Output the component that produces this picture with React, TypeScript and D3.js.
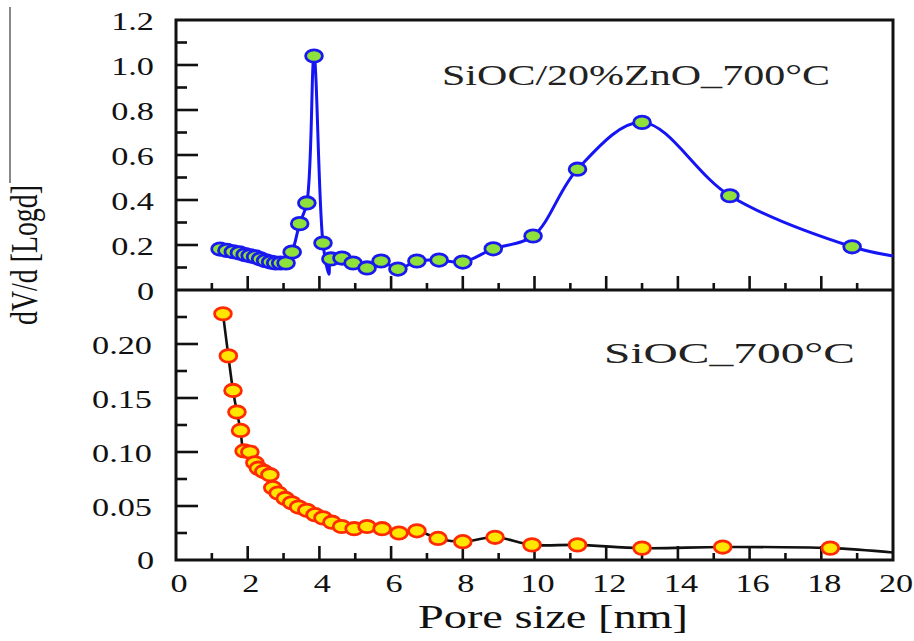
import React from "react";
import * as d3 from "d3";

// ---- data ----
const topX = [1.23, 1.42, 1.6, 1.77, 1.93, 2.07, 2.22, 2.36, 2.5, 2.64, 2.78, 2.92, 3.07, 3.24, 3.45, 3.65, 3.85, 4.1, 4.27, 4.32, 4.63, 4.94, 5.33, 5.72, 6.19, 6.72, 7.34, 8.0, 8.85, 9.96, 11.2, 13.0, 15.45, 18.86, 20.0];
const topY = [0.182, 0.176, 0.17, 0.165, 0.157, 0.152, 0.147, 0.138, 0.13, 0.124, 0.12, 0.12, 0.12, 0.169, 0.295, 0.387, 1.04, 0.209, 0.07, 0.138, 0.142, 0.12, 0.098, 0.129, 0.093, 0.129, 0.133, 0.124, 0.183, 0.24, 0.537, 0.745, 0.419, 0.192, 0.151];
const topMarked = [1, 1, 1, 1, 1, 1, 1, 1, 1, 1, 1, 1, 1, 1, 1, 1, 1, 1, 0, 1, 1, 1, 1, 1, 1, 1, 1, 1, 1, 1, 1, 1, 1, 1, 0];

const botX = [1.31, 1.46, 1.59, 1.7, 1.8, 1.9, 2.06, 2.2, 2.3, 2.45, 2.62, 2.7, 2.85, 3.05, 3.23, 3.42, 3.65, 3.88, 4.1, 4.35, 4.62, 4.97, 5.33, 5.75, 6.22, 6.72, 7.31, 8.0, 8.9, 9.93, 11.2, 13.0, 15.25, 18.25, 20.0];
const botY = [0.228, 0.189, 0.157, 0.137, 0.12, 0.101, 0.1, 0.09, 0.085, 0.082, 0.079, 0.067, 0.062, 0.057, 0.053, 0.049, 0.046, 0.042, 0.039, 0.035, 0.031, 0.029, 0.031, 0.029, 0.025, 0.027, 0.02, 0.017, 0.021, 0.014, 0.014, 0.011, 0.012, 0.011, 0.007];
const botMarked = [1, 1, 1, 1, 1, 1, 1, 1, 1, 1, 1, 1, 1, 1, 1, 1, 1, 1, 1, 1, 1, 1, 1, 1, 1, 1, 1, 1, 1, 1, 1, 1, 1, 1, 0];

const xMajorTicks = [0, 2, 4, 6, 8, 10, 12, 14, 16, 18, 20];
const topYTicks = [0, 0.2, 0.4, 0.6, 0.8, 1.0, 1.2];
const botYTicks = [0, 0.05, 0.1, 0.15, 0.2];

const topLabel = "SiOC/20%ZnO_700°C";
const botLabel = "SiOC_700°C";
const xTitle = "Pore size [nm]";
const yTitle = "dV/d [Logd]";

// ---- layout ----
const W = 914, H = 641;
const X0 = 176, X1 = 893, YT = 20, YM = 290, YB = 560;
const SX = 1.37;
const FONT = "'Liberation Serif', 'Times New Roman', serif";

const x = d3.scaleLinear().domain([0, 20]).range([X0, X1]);
const yTop = d3.scaleLinear().domain([0, 1.2]).range([YM, YT]);
const yBot = d3.scaleLinear().domain([0, 0.25]).range([YB, YM]);

function STxt({ x, y, children, anchor = "middle", size = 25 }: any) {
  return (
    <text
      transform={`translate(${x},${y}) scale(${SX},1)`}
      textAnchor={anchor}
      fontFamily={FONT}
      fontSize={size}
      fill="#111"
    >
      {children}
    </text>
  );
}

export default function App() {
  const topPts = topX.map((v, i) => ({ x: v, y: topY[i], m: topMarked[i] }));
  const botPts = botX.map((v, i) => ({ x: v, y: botY[i], m: botMarked[i] }));

  const topLine = d3
    .line<any>()
    .x((d) => x(d.x))
    .y((d) => yTop(d.y))
    .curve(d3.curveCatmullRom.alpha(0.5))(topPts);
  const botLine = d3
    .line<any>()
    .x((d) => x(d.x))
    .y((d) => yBot(d.y))
    .curve(d3.curveCatmullRom.alpha(0.5))(botPts);

  const xMinor = d3.range(1, 20, 2);
  const topMinor = d3.range(0.1, 1.2, 0.2);
  const botMinor = d3.range(0.025, 0.25, 0.05);

  const tickStroke = { stroke: "#111", strokeWidth: 2.6 };

  return (
    <svg
      width={W}
      height={H}
      style={{ position: "absolute", left: 0, top: 0, background: "#fff" }}
    >
      <rect x={0} y={0} width={W} height={H} fill="#fff" />
      {/* stray gray line at far left */}
      <line x1={10} y1={7} x2={10} y2={183} stroke="#888" strokeWidth={2} />

      {/* x ticks on both panels */}
      {[YM, YB].map((yb) => (
        <g key={"xt" + yb}>
          {xMajorTicks.slice(1, -1).map((t) => (
            <line key={"M" + t} x1={x(t)} x2={x(t)} y1={yb} y2={yb - 14} {...tickStroke} />
          ))}
          {xMinor.map((t) => (
            <line key={"m" + t} x1={x(t)} x2={x(t)} y1={yb} y2={yb - 7} {...tickStroke} />
          ))}
        </g>
      ))}

      {/* y ticks top */}
      {topYTicks.slice(1, -1).map((t) => (
        <line key={"ty" + t} x1={X0} x2={X0 + 22} y1={yTop(t)} y2={yTop(t)} {...tickStroke} />
      ))}
      {topMinor.map((t) => (
        <line key={"tym" + t} x1={X0} x2={X0 + 11} y1={yTop(t)} y2={yTop(t)} {...tickStroke} />
      ))}
      {/* y ticks bottom */}
      {botYTicks.slice(1).map((t) => (
        <line key={"by" + t} x1={X0} x2={X0 + 22} y1={yBot(t)} y2={yBot(t)} {...tickStroke} />
      ))}
      {botMinor.map((t) => (
        <line key={"bym" + t} x1={X0} x2={X0 + 11} y1={yBot(t)} y2={yBot(t)} {...tickStroke} />
      ))}

      {/* frame */}
      <rect x={X0} y={YT} width={X1 - X0} height={YB - YT} fill="none" stroke="#111" strokeWidth={3} />
      <line x1={X0} x2={X1} y1={YM} y2={YM} stroke="#111" strokeWidth={3} />

      {/* series lines */}
      <path d={topLine || ""} fill="none" stroke="#1414f5" strokeWidth={3} />
      <path d={botLine || ""} fill="none" stroke="#111" strokeWidth={2.6} />

      {/* markers */}
      {topPts.filter((d) => d.m).map((d, i) => (
        <ellipse
          key={"tp" + i}
          cx={x(d.x)}
          cy={yTop(d.y)}
          rx={8.4}
          ry={6.2}
          fill="#8ee03a"
          stroke="#1a1af0"
          strokeWidth={2.8}
        />
      ))}
      {botPts.filter((d) => d.m).map((d, i) => (
        <ellipse
          key={"bp" + i}
          cx={x(d.x)}
          cy={yBot(d.y)}
          rx={8.4}
          ry={6.2}
          fill="#ffe600"
          stroke="#ff2a00"
          strokeWidth={2.8}
        />
      ))}

      {/* y tick labels */}
      {topYTicks.map((t) => (
        <STxt key={"tyl" + t} x={154} y={yTop(t) + 10} anchor="end">
          {t === 0 ? "0" : t.toFixed(1)}
        </STxt>
      ))}
      {botYTicks.slice(1).map((t) => (
        <STxt key={"byl" + t} x={152} y={yBot(t) + 10} anchor="end">
          {t.toFixed(2)}
        </STxt>
      ))}
      <STxt x={154} y={yBot(0) + 9} anchor="end">0</STxt>

      {/* x tick labels */}
      {xMajorTicks.map((t) => (
        <STxt key={"xl" + t} x={x(t) + 3} y={592}>
          {String(t)}
        </STxt>
      ))}

      {/* axis titles */}
      <text
        x={553}
        y={628}
        textAnchor="middle"
        fontFamily={FONT}
        fontSize={33}
        textLength={270}
        lengthAdjust="spacingAndGlyphs"
        fill="#111"
      >
        {xTitle}
      </text>
      <text
        transform={`translate(37,255) scale(${SX},1) rotate(-90)`}
        textAnchor="middle"
        fontFamily={FONT}
        fontSize={28}
        textLength={140}
        lengthAdjust="spacingAndGlyphs"
        fill="#111"
      >
        {yTitle}
      </text>

      {/* annotations */}
      <text
        x={442}
        y={85}
        fontFamily={FONT}
        fontSize={29}
        textLength={388}
        lengthAdjust="spacingAndGlyphs"
        fill="#222"
      >
        {topLabel}
      </text>
      <text
        x={604}
        y={363}
        fontFamily={FONT}
        fontSize={29}
        textLength={251}
        lengthAdjust="spacingAndGlyphs"
        fill="#222"
      >
        {botLabel}
      </text>
    </svg>
  );
}
